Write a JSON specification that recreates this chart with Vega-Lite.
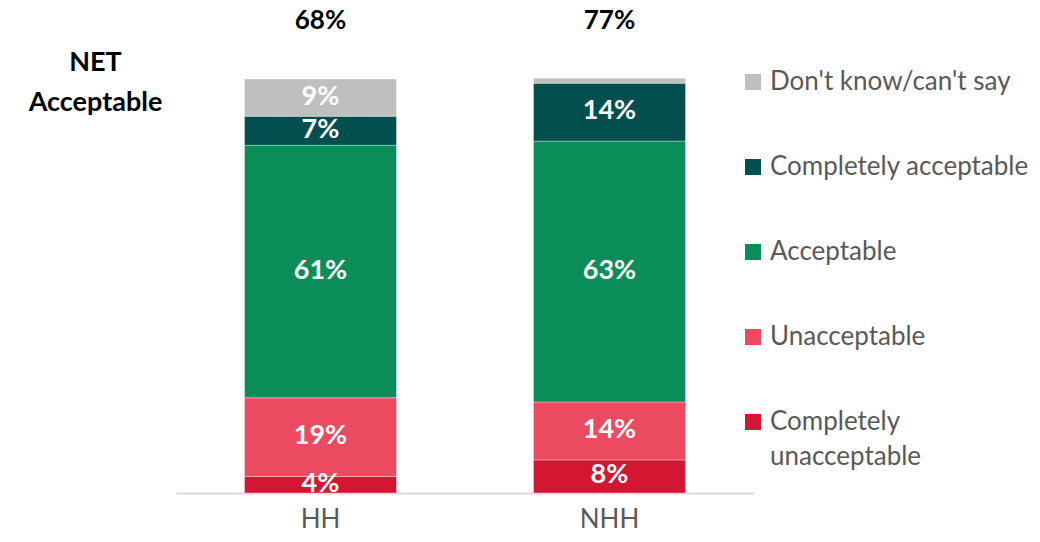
{
  "$schema": "https://vega.github.io/schema/vega-lite/v6.json",
  "width": 578,
  "height": 414,
  "autosize": {"type": "none"},
  "padding": {"left": 176, "top": 79, "right": 286, "bottom": 49},
  "background": "white",
  "config": {
    "font": "Lato",
    "view": {"stroke": null},
    "style": {"guide-label": {"lineHeight": 35}}
  },
  "data": {
    "values": [
      {"group": "HH", "category": "Completely unacceptable", "value": 4, "order": 1},
      {"group": "HH", "category": "Unacceptable", "value": 19, "order": 2},
      {"group": "HH", "category": "Acceptable", "value": 61, "order": 3},
      {"group": "HH", "category": "Completely acceptable", "value": 7, "order": 4},
      {"group": "HH", "category": "Don't know/can't say", "value": 9, "order": 5},
      {"group": "NHH", "category": "Completely unacceptable", "value": 8, "order": 1},
      {"group": "NHH", "category": "Unacceptable", "value": 14, "order": 2},
      {"group": "NHH", "category": "Acceptable", "value": 63, "order": 3},
      {"group": "NHH", "category": "Completely acceptable", "value": 14, "order": 4},
      {"group": "NHH", "category": "Don't know/can't say", "value": 1.2, "order": 5}
    ]
  },
  "layer": [
    {
      "mark": {"type": "bar", "stroke": "#ffffff", "strokeOpacity": 0.35, "strokeWidth": 1},
      "encoding": {
        "x": {
          "field": "group", "type": "nominal",
          "scale": {"paddingInner": 0.474, "paddingOuter": 0.237},
          "axis": {
            "title": null, "labelAngle": 0, "labelFontSize": 26, "labelColor": "#595959",
            "labelPadding": 13, "ticks": false, "domainColor": "#D9D9D9", "domainWidth": 2
          }
        },
        "y": {
          "field": "value", "type": "quantitative", "stack": "zero",
          "scale": {"domain": [0, 100], "nice": false},
          "axis": {
            "domain": false, "ticks": false, "labels": false, "grid": false,
            "title": ["NET", "Acceptable"], "titleAngle": 0, "titleFontSize": 27,
            "titleFontWeight": "bold", "titleColor": "#000000", "titleX": -81, "titleY": -9,
            "titleAlign": "center", "titleBaseline": "alphabetic", "titleLineHeight": 40
          }
        },
        "color": {
          "field": "category", "type": "nominal",
          "scale": {
            "domain": ["Don't know/can't say", "Completely acceptable", "Acceptable", "Unacceptable", "Completely unacceptable"],
            "range": ["#BFBFBF", "#034E4F", "#0A8D59", "#EC4A60", "#D31733"]
          },
          "legend": {
            "title": null, "orient": "none", "legendX": 564, "legendY": -10,
            "symbolType": "square", "symbolSize": 256, "symbolStrokeWidth": 0,
            "labelFontSize": 26, "labelColor": "#595959", "labelLimit": 400, "labelOffset": 4,
            "rowPadding": 59,
            "labelExpr": "datum.label == 'Completely unacceptable' ? ['Completely', 'unacceptable'] : datum.label"
          }
        },
        "order": {"field": "order", "type": "quantitative"}
      }
    },
    {
      "transform": [
        {"stack": "value", "groupby": ["group"], "as": ["v0", "v1"], "sort": [{"field": "order", "order": "ascending"}]},
        {"calculate": "(datum.v0 + datum.v1) / 2", "as": "mid"},
        {"calculate": "round(datum.value) + '%'", "as": "lab"},
        {"filter": "datum.value >= 3"}
      ],
      "mark": {"type": "text", "color": "#ffffff", "fontSize": 27, "fontWeight": "bold", "baseline": "middle", "dy": -1},
      "encoding": {
        "x": {"field": "group", "type": "nominal"},
        "y": {"field": "mid", "type": "quantitative"},
        "text": {"field": "lab"}
      }
    },
    {
      "data": {"values": [{"group": "HH", "net": 68}, {"group": "NHH", "net": 77}]},
      "transform": [{"calculate": "datum.net + '%'", "as": "lab"}],
      "mark": {"type": "text", "color": "#000000", "fontSize": 26, "fontWeight": "bold", "baseline": "middle"},
      "encoding": {
        "x": {"field": "group", "type": "nominal"},
        "y": {"datum": 114, "type": "quantitative"},
        "text": {"field": "lab"}
      }
    }
  ]
}
